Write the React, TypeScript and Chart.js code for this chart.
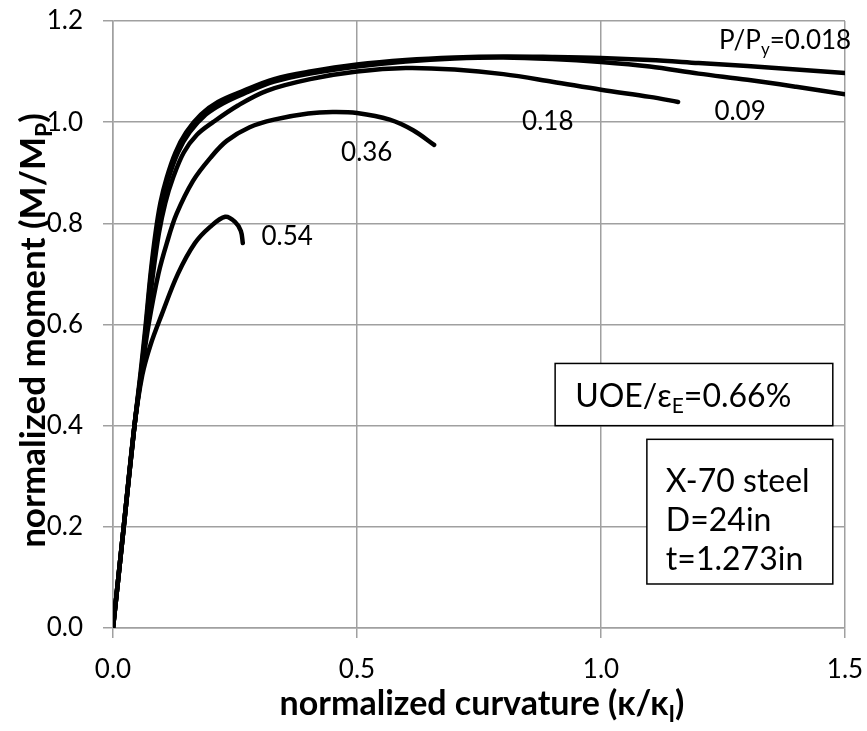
import { useEffect, useRef } from "react";
import { Chart, registerables } from "chart.js";

Chart.register(...registerables);

// Moment–curvature curves for each axial load ratio P/Py
const K_018 = [0, 0.022, 0.044, 0.056, 0.067, 0.077, 0.087, 0.097, 0.11, 0.128, 0.15, 0.18, 0.215, 0.267, 0.33, 0.404, 0.5, 0.6, 0.7, 0.8, 0.9, 1.0, 1.1, 1.2, 1.3, 1.4, 1.5];
const M_018 = [0, 0.2, 0.4, 0.5, 0.6, 0.7, 0.78, 0.84, 0.89, 0.94, 0.98, 1.015, 1.04, 1.062, 1.085, 1.1, 1.114, 1.123, 1.128, 1.13, 1.129, 1.127, 1.123, 1.117, 1.111, 1.104, 1.097];

const K_009 = [0, 0.022, 0.044, 0.057, 0.068, 0.078, 0.089, 0.1, 0.114, 0.133, 0.157, 0.19, 0.225, 0.267, 0.33, 0.404, 0.5, 0.6, 0.7, 0.8, 0.9, 1.0, 1.1, 1.2, 1.3, 1.4, 1.5];
const M_009 = [0, 0.2, 0.4, 0.5, 0.6, 0.7, 0.78, 0.84, 0.89, 0.94, 0.98, 1.015, 1.037, 1.056, 1.08, 1.096, 1.11, 1.12, 1.126, 1.128, 1.125, 1.119, 1.11, 1.096, 1.084, 1.07, 1.055];

const K_018B = [0, 0.022, 0.044, 0.057, 0.07, 0.082, 0.094, 0.107, 0.123, 0.145, 0.172, 0.205, 0.256, 0.315, 0.404, 0.5, 0.6, 0.7, 0.8, 0.9, 1.0, 1.1, 1.158];
const M_018B = [0, 0.2, 0.4, 0.5, 0.6, 0.7, 0.78, 0.84, 0.89, 0.94, 0.975, 1.0, 1.033, 1.062, 1.085, 1.1, 1.107, 1.104, 1.095, 1.08, 1.064, 1.05, 1.04];

const K_036 = [0, 0.022, 0.044, 0.058, 0.073, 0.093, 0.11, 0.13, 0.164, 0.2, 0.233, 0.28, 0.33, 0.4, 0.45, 0.5, 0.567, 0.615, 0.658];
const M_036 = [0, 0.2, 0.4, 0.5, 0.6, 0.7, 0.76, 0.818, 0.884, 0.93, 0.963, 0.99, 1.005, 1.017, 1.02, 1.018, 1.005, 0.984, 0.955];

const K_054 = [0, 0.022, 0.044, 0.06, 0.077, 0.1, 0.133, 0.168, 0.199, 0.23, 0.25, 0.262, 0.266];
const M_054 = [0, 0.2, 0.4, 0.5, 0.56, 0.62, 0.7, 0.761, 0.793, 0.813, 0.803, 0.785, 0.761];

// Load-ratio labels placed next to each curve (data coordinates of text centre)
const LOAD_LABELS = ["0.54", "0.36", "0.18", "0.09"];
const LOAD_LABEL_K = [0.357, 0.52, 0.891, 1.285];
const LOAD_LABEL_M = [0.773, 0.939, 1.002, 1.02];

const FONT = "Lato, 'Open Sans', sans-serif";

type Seg = { t: string; sub?: boolean };

function drawRich(
  ctx: CanvasRenderingContext2D,
  segs: Seg[],
  x: number,
  y: number,
  size: number,
  weight: string,
  align: "left" | "center" | "right"
) {
  const main = `${weight} ${size}px ${FONT}`;
  const small = `${weight} ${Math.round(size * 0.66)}px ${FONT}`;
  let w = 0;
  for (const s of segs) {
    ctx.font = s.sub ? small : main;
    w += ctx.measureText(s.t).width;
  }
  let cx = align === "left" ? x : align === "right" ? x - w : x - w / 2;
  ctx.textAlign = "left";
  ctx.textBaseline = "alphabetic";
  for (const s of segs) {
    ctx.font = s.sub ? small : main;
    ctx.fillText(s.t, cx, s.sub ? y + size * 0.2 : y);
    cx += ctx.measureText(s.t).width;
  }
}

const overlayPlugin = {
  id: "overlay",
  afterDraw(chart: any) {
    const { ctx, chartArea } = chart;
    const xs = chart.scales.x;
    const ys = chart.scales.y;
    const px = (v: number) => xs.getPixelForValue(v);
    const py = (v: number) => ys.getPixelForValue(v);
    ctx.save();
    ctx.fillStyle = "#000";

    // curve labels
    ctx.font = `26px ${FONT}`;
    ctx.textAlign = "center";
    ctx.textBaseline = "middle";
    LOAD_LABELS.forEach((t, i) => {
      ctx.fillText(t, px(LOAD_LABEL_K[i]), py(LOAD_LABEL_M[i]));
    });
    drawRich(ctx, [{ t: "P/P" }, { t: "y", sub: true }, { t: "=0.018" }], px(1.242), py(1.144), 26, "normal", "left");

    // info boxes
    ctx.lineWidth = 1.5;
    ctx.strokeStyle = "#000";
    const box = (k0: number, m0: number, k1: number, m1: number) => {
      const x0 = px(k0), y0 = py(m0), x1 = px(k1), y1 = py(m1);
      ctx.fillStyle = "#fff";
      ctx.fillRect(x0, y0, x1 - x0, y1 - y0);
      ctx.strokeRect(x0, y0, x1 - x0, y1 - y0);
      ctx.fillStyle = "#000";
      return { x0, y0, x1, y1 };
    };
    const b1 = box(0.906, 0.523, 1.475, 0.4);
    drawRich(ctx, [{ t: "UOE/ε" }, { t: "E", sub: true }, { t: "=0.66%" }], b1.x0 + 20, (b1.y0 + b1.y1) / 2 + 12, 32, "normal", "left");
    const b2 = box(1.094, 0.373, 1.475, 0.087);
    ["X-70 steel", "D=24in", "t=1.273in"].forEach((t, i) => {
      drawRich(ctx, [{ t }], b2.x0 + 19, b2.y0 + 53 + i * 39, 32, "normal", "left");
    });

    // axis titles
    const midX = (chartArea.left + chartArea.right) / 2;
    const midY = (chartArea.top + chartArea.bottom) / 2;
    drawRich(ctx, [{ t: "normalized curvature (κ/κ" }, { t: "I", sub: true }, { t: ")" }], midX + 3, 715, 34, "bold", "center");
    ctx.translate(45, midY + 6);
    ctx.rotate(-Math.PI / 2);
    drawRich(ctx, [{ t: "normalized moment (M/M" }, { t: "P", sub: true }, { t: ")" }], 0, 0, 35, "bold", "center");
    ctx.restore();
  },
};

function series(k: number[], m: number[]) {
  return k.map((v, i) => ({ x: v, y: m[i] }));
}

// keep the plot box fixed: drop the automatic tick-label overhang padding
function fixPadding(s: any) {
  s.paddingTop = 0;
  s.paddingBottom = 0;
  s.paddingLeft = 0;
  s.paddingRight = 0;
}

export default function App() {
  const ref = useRef<HTMLCanvasElement | null>(null);

  useEffect(() => {
    if (!ref.current) return;
    const lineStyle = {
      borderColor: "#000",
      backgroundColor: "#000",
      borderWidth: 4.5,
      pointRadius: 0,
      fill: false,
      showLine: true,
      tension: 0.35,
      borderCapStyle: "round" as const,
      borderJoinStyle: "round" as const,
    };
    const grid = {
      color: "#a0a0a0",
      lineWidth: 1.5,
      drawTicks: true,
      tickLength: 10,
      tickColor: "#a0a0a0",
    };
    const chart = new Chart(ref.current, {
      type: "scatter",
      data: {
        datasets: [
          { label: "0.018", data: series(K_018, M_018), ...lineStyle },
          { label: "0.09", data: series(K_009, M_009), ...lineStyle },
          { label: "0.18", data: series(K_018B, M_018B), ...lineStyle },
          { label: "0.36", data: series(K_036, M_036), ...lineStyle },
          { label: "0.54", data: series(K_054, M_054), ...lineStyle },
        ],
      },
      options: {
        animation: false,
        responsive: false,
        layout: { padding: { left: 0, top: 21, right: 22, bottom: 0 } },
        plugins: { legend: { display: false }, tooltip: { enabled: false } },
        scales: {
          x: {
            type: "linear",
            min: 0,
            max: 1.5,
            grid,
            border: { color: "#a0a0a0", width: 1.5 },
            ticks: {
              stepSize: 0.5,
              padding: 16,
              color: "#000",
              font: { family: FONT, size: 26 },
              callback: (v: any) => Number(v).toFixed(1),
            },
            afterFit: (s: any) => {
              s.height = 103;
              fixPadding(s);
            },
          },
          y: {
            type: "linear",
            min: 0,
            max: 1.2,
            grid,
            border: { color: "#a0a0a0", width: 1.5 },
            ticks: {
              stepSize: 0.2,
              padding: 20,
              color: "#000",
              font: { family: FONT, size: 26 },
              callback: (v: any) => Number(v).toFixed(1),
            },
            afterFit: (s: any) => {
              s.width = 113;
              fixPadding(s);
            },
          },
        },
      },
      plugins: [overlayPlugin],
    });
    return () => chart.destroy();
  }, []);

  return (
    <div style={{ position: "absolute", left: 0, top: 0, width: 867, height: 731, background: "#fff" }}>
      <canvas ref={ref} width={867} height={731} />
    </div>
  );
}
